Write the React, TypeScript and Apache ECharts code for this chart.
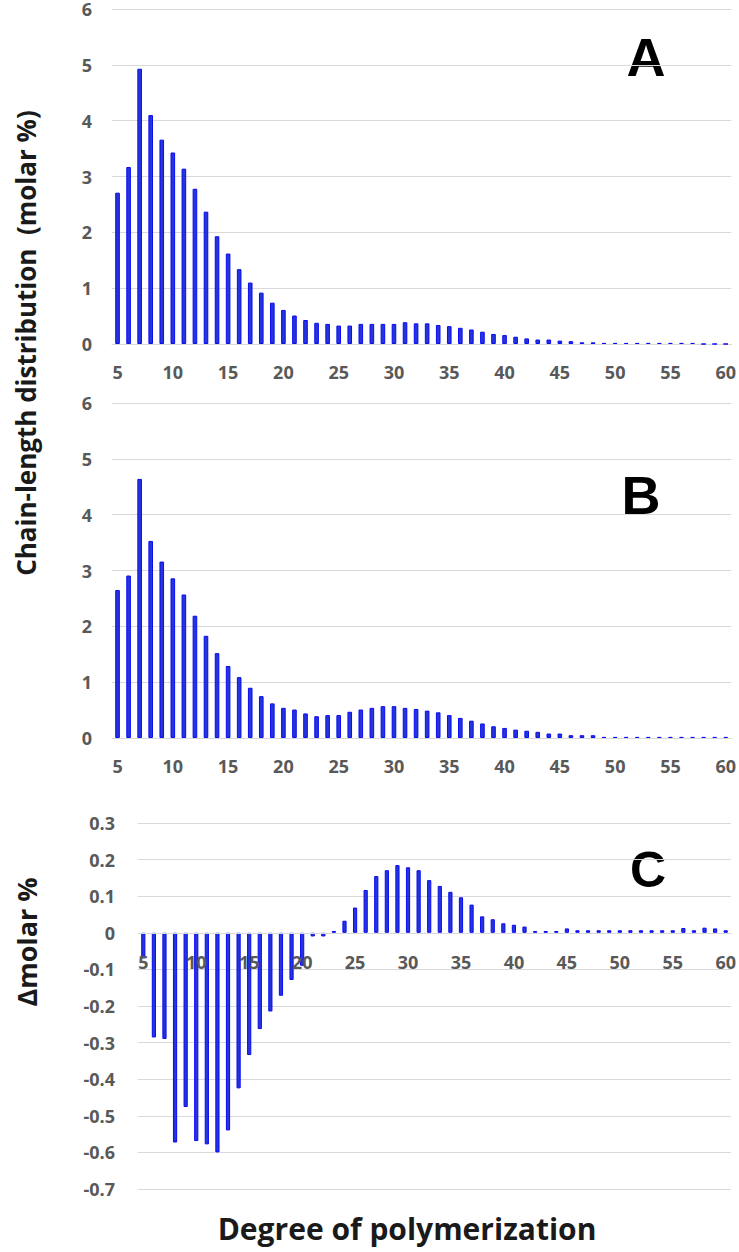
import React, { useEffect, useRef } from "react";
import * as echarts from "echarts";

const categories = [
  "5", "6", "7", "8", "9", "10", "11", "12", "13", "14",
  "15", "16", "17", "18", "19", "20", "21", "22", "23", "24",
  "25", "26", "27", "28", "29", "30", "31", "32", "33", "34",
  "35", "36", "37", "38", "39", "40", "41", "42", "43", "44",
  "45", "46", "47", "48", "49", "50", "51", "52", "53", "54",
  "55", "56", "57", "58", "59", "60",
];

// Panel A: chain-length distribution (molar %)
const panelA = [
  2.71, 3.17, 4.93, 4.1, 3.66, 3.43, 3.14, 2.78, 2.37, 1.93,
  1.62, 1.34, 1.1, 0.92, 0.74, 0.61, 0.51, 0.43, 0.38, 0.36,
  0.33, 0.33, 0.36, 0.36, 0.36, 0.36, 0.39, 0.37, 0.37, 0.34,
  0.32, 0.29, 0.26, 0.22, 0.18, 0.16, 0.13, 0.1, 0.08, 0.08,
  0.06, 0.05, 0.03, 0.03, 0.02, 0.02, 0.02, 0.02, 0.02, 0.02,
  0.02, 0.02, 0.02, 0, 0, 0,
];

// Panel B: chain-length distribution (molar %)
const panelB = [
  2.65, 2.91, 4.64, 3.53, 3.16, 2.86, 2.57, 2.19, 1.83, 1.52,
  1.29, 1.09, 0.9, 0.75, 0.62, 0.54, 0.51, 0.44, 0.39, 0.41,
  0.41, 0.47, 0.51, 0.54, 0.57, 0.57, 0.54, 0.52, 0.49, 0.46,
  0.41, 0.36, 0.31, 0.26, 0.21, 0.18, 0.15, 0.13, 0.11, 0.08,
  0.08, 0.05, 0.05, 0.05, 0.02, 0.02, 0.02, 0.02, 0.02, 0.02,
  0.02, 0.02, 0.02, 0.02, 0.02, 0.02,
];

// Panel C: difference (Δ molar %)
const panelC = [
  -0.07, -0.286, -0.29, -0.573, -0.476, -0.569, -0.578, -0.6, -0.54, -0.425,
  -0.334, -0.263, -0.215, -0.172, -0.129, -0.09, -0.01, -0.01, 0.005, 0.033,
  0.069, 0.117, 0.155, 0.171, 0.185, 0.179, 0.171, 0.144, 0.128, 0.112,
  0.097, 0.077, 0.045, 0.037, 0.026, 0.022, 0.017, 0.005, 0.005, 0.005,
  0.012, 0.007, 0.007, 0.007, 0.007, 0.007, 0.007, 0.007, 0.007, 0.007,
  0.007, 0.013, 0.007, 0.014, 0.012, 0.007,
];

const panelLetters = ["A", "B", "C"];
const yTitleTop = "Chain-length distribution  (molar %)";
const yTitleBottom = "Δmolar %";
const xTitle = "Degree of polymerization";

const labelStyle = {
  fontFamily: "Open Sans",
  fontWeight: "bold" as const,
  fontSize: 18,
  color: "#595959",
};

const gridLine = { show: true, lineStyle: { color: "#d9d9d9", width: 1 } };

const barStyle = {
  color: "#2536d8",
  borderColor: "#0a0af5",
  borderWidth: 1,
};

export default function App() {
  const ref = useRef<HTMLDivElement>(null);

  useEffect(() => {
    if (!ref.current) return;
    const chart = echarts.init(ref.current, undefined, { renderer: "svg" });

    // grid C: top 823, height 366, range -0.7..0.3 -> zero at 823 + 0.3*366
    const gridCTop = 823;
    const gridCHeight = 366;
    const zeroOffsetC = -(gridCHeight - 0.3 * gridCHeight);

    const xAxis = [0, 1, 2].map((i) => ({
      type: "category" as const,
      gridIndex: i,
      data: categories,
      boundaryGap: true,
      position: "bottom" as const,
      offset: i === 2 ? zeroOffsetC : 0,
      axisTick: { show: false },
      axisLine: { show: true, onZero: false, lineStyle: { color: "#d9d9d9", width: 1 } },
      axisLabel: { ...labelStyle, interval: 4, margin: i === 2 ? 20 : 19 },
      splitLine: { show: false },
      z: i === 2 ? 5 : 0,
    }));

    const yAxisAB = (i: number) => ({
      type: "value" as const,
      gridIndex: i,
      min: 0,
      max: 6,
      interval: 1,
      axisLine: { show: false },
      axisTick: { show: false },
      axisLabel: { ...labelStyle, margin: 20 },
      splitLine: gridLine,
    });

    const option = {
      animation: false,
      backgroundColor: "#ffffff",
      grid: [
        { left: 112, top: 9, width: 620, height: 335 },
        { left: 112, top: 403, width: 620, height: 335 },
        { left: 138, top: gridCTop, width: 594, height: gridCHeight },
      ],
      xAxis,
      yAxis: [
        yAxisAB(0),
        yAxisAB(1),
        {
          type: "value" as const,
          gridIndex: 2,
          min: -0.7,
          max: 0.3,
          interval: 0.1,
          axisLine: { show: false },
          axisTick: { show: false },
          axisLabel: {
            ...labelStyle,
            margin: 23,
            formatter: (v: number) => String(Math.round(v * 10) / 10),
          },
          splitLine: gridLine,
        },
      ],
      series: [
        { type: "bar", xAxisIndex: 0, yAxisIndex: 0, data: panelA, barWidth: 4.6, itemStyle: barStyle },
        { type: "bar", xAxisIndex: 1, yAxisIndex: 1, data: panelB, barWidth: 4.6, itemStyle: barStyle },
        { type: "bar", xAxisIndex: 2, yAxisIndex: 2, data: panelC, barWidth: 4.2, itemStyle: barStyle },
      ],
      graphic: [
        {
          type: "text", x: 646, y: 57,
          style: { text: panelLetters[0], font: "bold 54px 'Liberation Sans'", fill: "#000", textAlign: "center", textVerticalAlign: "middle", align: "center", verticalAlign: "middle" },
        },
        {
          type: "text", x: 641, y: 495,
          style: { text: panelLetters[1], font: "bold 54px 'Liberation Sans'", fill: "#000", textAlign: "center", textVerticalAlign: "middle", align: "center", verticalAlign: "middle" },
        },
        {
          type: "text", x: 648, y: 870,
          style: { text: panelLetters[2], font: "bold 50px 'Liberation Sans'", fill: "#000", textAlign: "center", textVerticalAlign: "middle", align: "center", verticalAlign: "middle" },
        },
        {
          type: "text", x: 26, y: 343, rotation: Math.PI / 2,
          style: { text: yTitleTop, font: "bold 26px 'Open Sans'", fill: "#1a1a1a", textAlign: "center", textVerticalAlign: "middle", align: "center", verticalAlign: "middle" },
        },
        {
          type: "text", x: 26, y: 942, rotation: Math.PI / 2,
          style: { text: yTitleBottom, font: "bold 27px 'Open Sans'", fill: "#1a1a1a", textAlign: "center", textVerticalAlign: "middle", align: "center", verticalAlign: "middle" },
        },
        {
          type: "text", x: 407, y: 1228,
          style: { text: xTitle, font: "bold 30px 'Open Sans'", fill: "#1a1a1a", textAlign: "center", textVerticalAlign: "middle", align: "center", verticalAlign: "middle" },
        },
      ],
    };

    chart.setOption(option as any);
    return () => chart.dispose();
  }, []);

  return (
    <div
      ref={ref}
      style={{ position: "fixed", left: 0, top: 0, width: 739, height: 1252, background: "#fff" }}
    />
  );
}
